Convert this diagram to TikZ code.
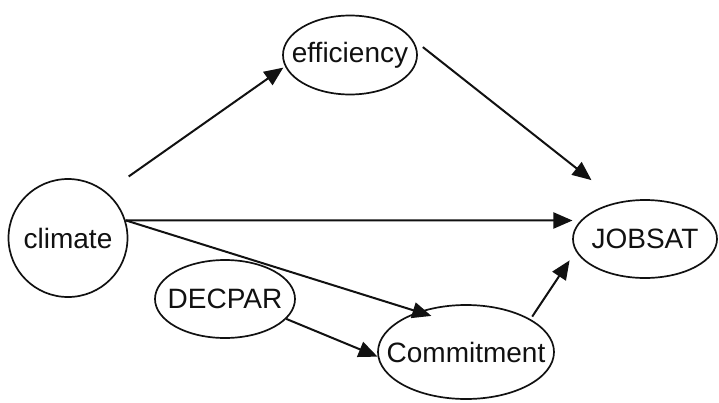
\documentclass[tikz,border=0pt]{standalone}
\usepackage{fontspec}
\setmainfont{Liberation Sans}
\usetikzlibrary{shapes.geometric, arrows.meta}
\definecolor{pathink}{HTML}{111111}
\newcommand{\vartext}[1]{\makebox[0pt]{#1}}

\begin{document}
\begin{tikzpicture}[x=1pt, y=-1pt, every node/.style={font=\fontsize{28}{33}\selectfont},
  var/.style={draw=pathink, ellipse, line width=1.7pt, inner sep=0pt, text=pathink},
  path/.style={draw=pathink, line width=2pt, -{Triangle[length=19pt, width=16pt]}}]

  \useasboundingbox (0,0) rectangle (719,402);

  \node[var, minimum width=119pt, minimum height=118pt] (climate) at (68,238) {\vartext{climate}};
  \node[var, minimum width=134pt, minimum height=79pt] (efficiency) at (350,55) {\vartext{efficiency}};
  \node[var, minimum width=144pt, minimum height=78pt] (jobsat) at (645,239) {\vartext{JOBSAT}};
  \node[var, minimum width=140pt, minimum height=78pt] (decpar) at (225,299) {\vartext{DECPAR}};
  \node[var, minimum width=176pt, minimum height=94pt] (commitment) at (466,352) {\vartext{Commitment}};

  \draw[path, shorten <=27pt, shorten >=2pt] (climate.50) -- (efficiency.190);
  \draw[path, shorten <=14pt, shorten >=35pt] (efficiency.15) -- (jobsat.125);
  \draw[path, shorten >=8pt] (climate.17) -- (jobsat.164);
  \draw[path, shorten >=-14pt] (climate.17) -- (commitment.140);
  \draw[path] (decpar.-18) -- (commitment.183);
  \draw[path, shorten <=3pt, shorten >=11pt] (commitment.27) -- (jobsat.190);

\end{tikzpicture}
\end{document}
